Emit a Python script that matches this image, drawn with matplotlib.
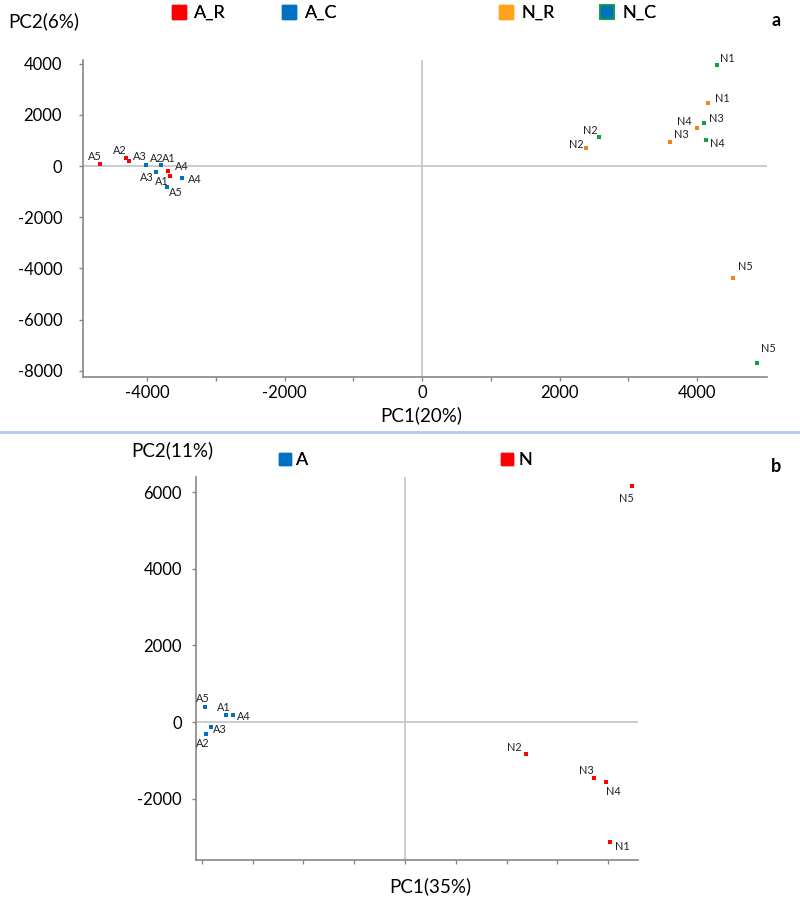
import matplotlib
matplotlib.use('Agg')
import matplotlib.pyplot as plt
from matplotlib.lines import Line2D

plt.rcParams['font.family'] = ['Lato', 'DejaVu Sans']
plt.rcParams['axes.unicode_minus'] = False

# ---------------- data: panel a ----------------
aR_labels = ['A5', 'A2', 'A3', 'A4', 'A1']
aR_x = [-4684, -4305, -4262, -3695, -3665]
aR_y = [78, 313, 195, -195, -391]

aC_labels = ['A2', 'A1', 'A3', 'A4', 'A5']
aC_x = [-4015, -3796, -3869, -3491, -3709]
aC_y = [39, 20, -234, -469, -820]

nR_labels = ['N1', 'N4', 'N3', 'N2', 'N5']
nR_x = [4160, 4000, 3607, 2385, 4524]
nR_y = [2461, 1484, 938, 703, -4375]

nC_labels = ['N1', 'N3', 'N4', 'N2', 'N5']
nC_x = [4291, 4102, 4131, 2575, 4873]
nC_y = [3945, 1680, 1016, 1133, -7695]

# ---------------- data: panel b ----------------
bA_labels = ['A5', 'A1', 'A4', 'A3', 'A2']
bA_x = [-7874, -7047, -6772, -7638, -7835]
bA_y = [391, 183, 183, -130, -313]

bN_labels = ['N2', 'N3', 'N4', 'N1', 'N5']
bN_x = [4764, 7441, 7913, 8071, 8937]
bN_y = [-835, -1461, -1565, -3131, 6157]

# label offsets (pixels) -- styling
off_aR = [(-5, 8), (-6, 7), (11, 5), (14, 4), (-8, -5)]
off_aC = [(11, 7), (8, 7), (-9, -6), (13, -1), (9, -6)]
off_nR = [(14, 5), (-13, 7), (11, 7), (-10, 4), (12, 12)]
off_nC = [(10, 7), (12, 5), (11, -4), (-9, 7), (11, 14)]
off_bA = [(-2, 9), (-2, 7), (11, -2), (9, -3), (-3, -9)]
off_bN = [(-12, 7), (-8, 8), (7, -10), (12, -4), (-6, -12)]

RED = '#ff0000'
BLUE = '#0070c0'
ORANGE = '#f5821f'
ORANGE_LEG = '#ffa31a'
GREEN = '#10a040'
SPINE = '#868686'
ZERO = '#c4c4c4'

W, H = 800, 899
fig = plt.figure(figsize=(W / 100, H / 100), dpi=100)


def px_axes(l, t, r, b):
    return [l / W, 1 - b / H, (r - l) / W, (b - t) / H]


def style(ax):
    for s in ['top', 'right']:
        ax.spines[s].set_visible(False)
    for s in ['left', 'bottom']:
        ax.spines[s].set_color(SPINE)
        ax.spines[s].set_linewidth(1.2)
    ax.axhline(0, color=ZERO, lw=1.2, zorder=1)
    ax.axvline(0, color=ZERO, lw=1.2, zorder=1)
    ax.tick_params(which='both', direction='out', color=SPINE, length=3, width=1)


def pts(ax, xs, ys, labels, offs, color):
    ax.scatter(xs, ys, marker='s', s=10, color=color, linewidths=0, zorder=3)
    for x, y, lab, (dx, dy) in zip(xs, ys, labels, offs):
        ax.annotate(lab, (x, y), xytext=(dx, dy), textcoords='offset pixels',
                    ha='center', va='center', fontsize=7.8, color='#222222')


# ---------------- panel a ----------------
axa = fig.add_axes(px_axes(83, 60, 767, 377))
style(axa)
axa.set_xlim(-4931, 5018)
axa.set_ylim(-8242, 4141)
axa.set_xticks([-4000, -2000, 0, 2000, 4000])
axa.set_xticks([-3000, -1000, 1000, 3000], minor=True)
axa.set_yticks([-8000, -6000, -4000, -2000, 0, 2000, 4000])
axa.tick_params(axis='x', labelsize=12, pad=3)
axa.tick_params(axis='y', labelsize=12, pad=12)
pts(axa, aR_x, aR_y, aR_labels, off_aR, RED)
pts(axa, aC_x, aC_y, aC_labels, off_aC, BLUE)
pts(axa, nR_x, nR_y, nR_labels, off_nR, ORANGE)
pts(axa, nC_x, nC_y, nC_labels, off_nC, GREEN)

fig.text(8 / W, 1 - 21 / H, 'PC2(6%)', fontsize=13.5, ha='left', va='center')
fig.text(421 / W, 1 - 415 / H, 'PC1(20%)', fontsize=13.5, ha='center', va='center')
fig.text(776 / W, 1 - 20 / H, 'a', fontsize=13, fontweight='bold', ha='center', va='center')

h_aR = Line2D([], [], marker='s', ls='', markersize=10, markerfacecolor=RED, markeredgecolor=RED)
h_aC = Line2D([], [], marker='s', ls='', markersize=10, markerfacecolor=BLUE, markeredgecolor=BLUE)
h_nR = Line2D([], [], marker='s', ls='', markersize=10, markerfacecolor=ORANGE_LEG, markeredgecolor=ORANGE_LEG)
h_nC = Line2D([], [], marker='s', ls='', markersize=10, markerfacecolor=BLUE, markeredgecolor=GREEN, markeredgewidth=1.2)

legkw = dict(frameon=False, fontsize=13, handlelength=1.0, handletextpad=0.35,
             borderpad=0, borderaxespad=0, ncol=2, loc='center left')
leg1 = fig.legend([h_aR, h_aC], ['A_R', 'A_C'], bbox_to_anchor=(170 / W, 1 - 13 / H),
                  columnspacing=3.0, **legkw)
leg2 = fig.legend([h_nR, h_nC], ['N_R', 'N_C'], bbox_to_anchor=(497 / W, 1 - 13 / H),
                  columnspacing=2.4, **legkw)
fig.add_artist(leg1)

# separator
fig.add_artist(Line2D([0, 1], [1 - 432 / H] * 2, transform=fig.transFigure,
                      color='#b4c7e7', lw=2))

# ---------------- panel b ----------------
axb = fig.add_axes(px_axes(196, 477, 638, 860))
style(axb)
axb.set_xlim(-8228, 9173)
axb.set_ylim(-3600, 6392)
axb.set_xticks([-8000, -6000, -4000, -2000, 0, 2000, 4000, 6000, 8000])
axb.set_xticklabels([])
axb.set_yticks([-2000, 0, 2000, 4000, 6000])
axb.tick_params(axis='y', labelsize=12, pad=7)
pts(axb, bA_x, bA_y, bA_labels, off_bA, BLUE)
pts(axb, bN_x, bN_y, bN_labels, off_bN, RED)

fig.text(172 / W, 1 - 450 / H, 'PC2(11%)', fontsize=13.5, ha='center', va='center')
fig.text(430 / W, 1 - 886 / H, 'PC1(35%)', fontsize=13.5, ha='center', va='center')
fig.text(776 / W, 1 - 467 / H, 'b', fontsize=13, fontweight='bold', ha='center', va='center')

h_bA = Line2D([], [], marker='s', ls='', markersize=8.5, markerfacecolor=BLUE, markeredgecolor=BLUE)
h_bN = Line2D([], [], marker='s', ls='', markersize=8.5, markerfacecolor=RED, markeredgecolor=RED)
legkw_b = dict(frameon=False, fontsize=13, handlelength=0.8, handletextpad=0.2,
               borderpad=0, borderaxespad=0, loc='center left')
leg3 = fig.legend([h_bA], ['A'], bbox_to_anchor=(278 / W, 1 - 460 / H), **legkw_b)
fig.add_artist(leg3)
leg4 = fig.legend([h_bN], ['N'], bbox_to_anchor=(500 / W, 1 - 460 / H), **legkw_b)
fig.add_artist(leg4)
fig.add_artist(leg2)

fig.savefig('out.png', dpi=100)
